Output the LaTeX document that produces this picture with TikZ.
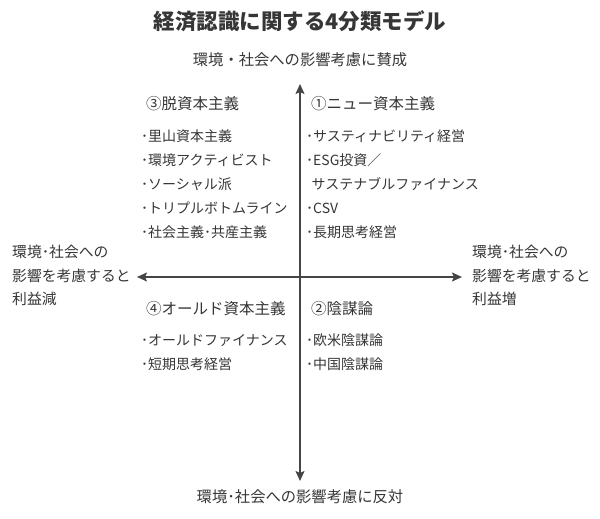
\documentclass[tikz,border=0pt]{standalone}
\usepackage{fontspec}
\setmainfont{Noto Sans CJK JP}
\usepackage{xcolor}
\usetikzlibrary{positioning,arrows.meta}
\definecolor{cText}{HTML}{363636}
\definecolor{cAxis}{HTML}{454545}

\begin{document}
\begin{tikzpicture}[
  x=1pt, y=-1pt,
  every node/.style={text=cText, inner sep=0pt},
  title/.style={font=\fontsize{21.5}{26}\selectfont\bfseries},
  axislabel/.style={font=\fontsize{15.3}{23.5}\selectfont},
  sidelabel/.style={font=\fontsize{14.8}{23.5}\selectfont, align=left, anchor=north west},
  heading/.style={font=\fontsize{15.5}{18}\selectfont, anchor=west},
  itemlist/.style={font=\fontsize{14}{24}\selectfont, align=left, anchor=north west},
  axis/.style={{Stealth[length=10pt, width=9pt, inset=2pt]}-{Stealth[length=10pt, width=9pt, inset=2pt]},
               draw=cAxis, line width=1.6pt},
]
  \useasboundingbox (0,0) rectangle (600,519);

  \node[title] (title) at (300,21) {経済認識に関する4分類モデル};

  % axis labels
  \node[axislabel] (pro)  at (300,60)  {環境・社会への影響考慮に賛成};
  \node[axislabel] (anti) at (300,497) {環境･社会への影響考慮に反対};
  \node[sidelabel] (loss) at (12,245)  {環境･社会への\\影響を考慮すると\\利益減};
  \node[sidelabel] (gain) at (472,245) {環境･社会への\\影響を考慮すると\\利益増};

  % axes
  \coordinate (ytop) at (300,84);
  \coordinate (ybot) at (300,481);
  \coordinate (xleft) at (137,277);
  \coordinate (xright) at (462,277);
  \draw[axis] (ytop) -- (ybot);
  \draw[axis] (xleft) -- (xright);

  % quadrants
  \node[heading] (h3) at (146,104) {③脱資本主義};
  \node[itemlist] (l3) at (141,130) {･里山資本主義\\･環境アクティビスト\\･ソーシャル派\\･トリプルボトムライン\\･社会主義･共産主義};

  \node[heading] (h1) at (311,104) {①ニュー資本主義};
  \node[itemlist] (l1) at (306,130) {･サスティナビリティ経営\\･ESG投資／\\\ \,サステナブルファイナンス\\･CSV\\･長期思考経営};

  \node[heading] (h4) at (146,309) {④オールド資本主義};
  \node[itemlist] (l4) at (141,334) {･オールドファイナンス\\･短期思考経営};

  \node[heading] (h2) at (311,309) {②陰謀論};
  \node[itemlist] (l2) at (306,334) {･欧米陰謀論\\･中国陰謀論};
\end{tikzpicture}
\end{document}
